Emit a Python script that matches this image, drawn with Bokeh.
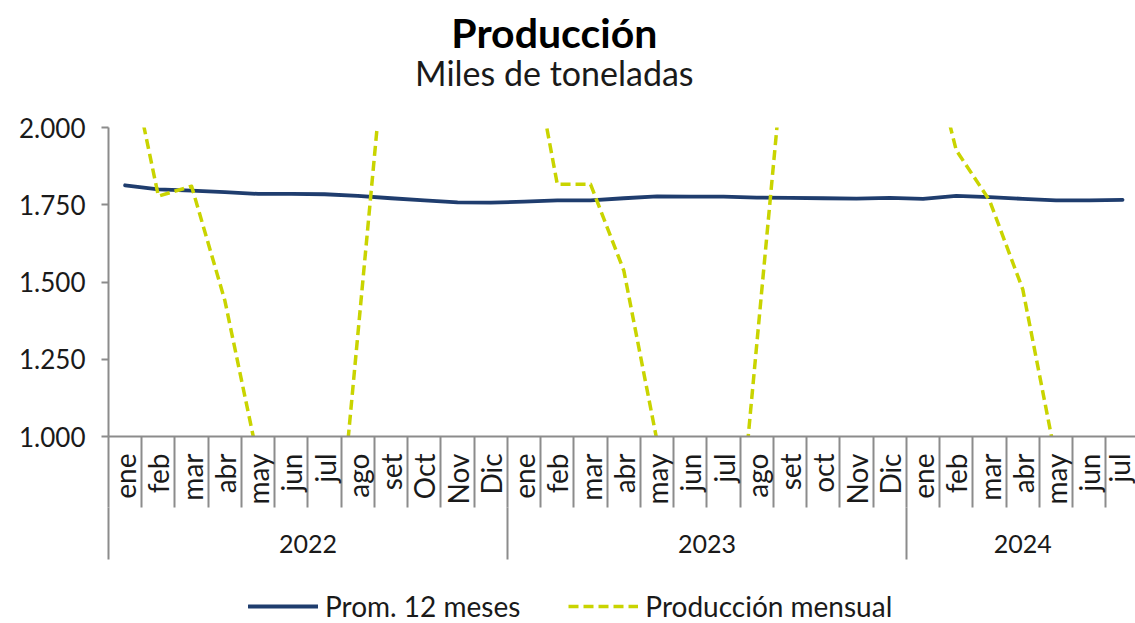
import numpy as np
from bokeh.plotting import figure
from bokeh.layouts import column
from bokeh.models import Range1d, LinearAxis, FixedTicker, Label, Legend, LegendItem, ColumnDataSource
from bokeh.embed import file_html
from bokeh.resources import INLINE

# ---------------- data ----------------
months = ["ene", "feb", "mar", "abr", "may", "jun", "jul", "ago", "set", "Oct", "Nov", "Dic",
          "ene", "feb", "mar", "abr", "may", "jun", "jul", "ago", "set", "oct", "Nov", "Dic",
          "ene", "feb", "mar", "abr", "may", "jun", "jul"]
years = ["2022", "2023", "2024"]
months_per_year = [12, 12, 7]

prom_12_meses = [1813, 1800, 1796, 1791, 1785, 1785, 1784, 1779, 1771, 1764, 1758, 1757,
                 1760, 1764, 1764, 1771, 1777, 1776, 1776, 1773, 1772, 1771, 1770, 1772,
                 1769, 1779, 1775, 1769, 1764, 1764, 1766]
produccion_mensual = [2295, 1778, 1810, 1440, 925, 430, 174, 1330, 2486, 2950, 2900, 2750,
                      2393, 1816, 1816, 1537, 985, 420, 142, 1300, 2458, 2900, 2850, 2700,
                      2350, 1926, 1764, 1476, 925, 410, 160]

y_ticks = [1000, 1250, 1500, 1750, 2000]
y_tick_labels = ["1.000", "1.250", "1.500", "1.750", "2.000"]

titulo = "Producción"
subtitulo = "Miles de toneladas"
series_names = ["Prom. 12 meses", "Producción mensual"]

# ---------------- style ----------------
FONT = "Lato"
NAVY = "#1F3D6E"
LIME = "#C9D400"
GREY = "#8C8C8C"
TXT = "#1A1A1A"
W = 1135

x_pos = list(np.arange(len(months)) + 0.5)
src = ColumnDataSource(dict(x=x_pos, prom=prom_12_meses, mens=produccion_mensual))

year_starts = list(np.cumsum([0] + months_per_year[:-1]))
year_centers = [float(s + n / 2) for s, n in zip(year_starts, months_per_year)]

x_range = Range1d(0, 30.89)


def strip(height, y_end):
    f = figure(width=W, height=height, output_backend="svg", toolbar_location=None,
               x_range=x_range, y_range=Range1d(0, y_end), x_axis_type=None, y_axis_type=None,
               min_border_left=0, min_border_right=0, min_border_top=0, min_border_bottom=0,
               outline_line_color=None, background_fill_color="white", border_fill_color="white")
    f.grid.visible = False
    return f


# ---------------- title strip ----------------
t = strip(112, 112)
t.add_layout(Label(x=13.41, y=80, text=titulo, text_align="center", text_baseline="middle",
                   text_font=FONT, text_font_size="41px", text_font_style="bold", text_color="#000000"))
t.add_layout(Label(x=13.41, y=40, text=subtitulo, text_align="center", text_baseline="middle",
                   text_font=FONT, text_font_size="34px", text_color=TXT))

# ---------------- main chart ----------------
p = figure(width=W, height=471, output_backend="svg", toolbar_location=None,
           x_range=x_range, y_range=Range1d(1000, 2000),
           x_axis_type=None,
           min_border_left=108, min_border_right=0, min_border_top=15, min_border_bottom=147,
           outline_line_color=None, background_fill_color="white", border_fill_color="white")
p.grid.visible = False

ya = p.yaxis[0]
ya.ticker = FixedTicker(ticks=y_ticks)
ya.major_label_overrides = {t_: l for t_, l in zip(y_ticks, y_tick_labels)}
ya.major_tick_out = 7
ya.major_tick_in = 0
ya.minor_tick_out = 0
ya.minor_tick_in = 0
ya.axis_line_color = GREY
ya.axis_line_width = 2
ya.major_tick_line_color = GREY
ya.major_tick_line_width = 2
ya.major_label_standoff = 16
ya.major_label_text_font = FONT
ya.major_label_text_font_size = "26px"
ya.major_label_text_color = TXT

# x axis: months (minor ticks = dividers)
ax1 = LinearAxis(ticker=FixedTicker(ticks=x_pos, minor_ticks=list(range(len(months) + 1))))
ax1.major_label_overrides = {float(x): m for x, m in zip(x_pos, months)}
ax1.major_label_orientation = np.pi / 2
ax1.major_tick_out = 0
ax1.major_tick_in = 0
ax1.minor_tick_out = 71
ax1.minor_tick_in = 0
ax1.minor_tick_line_color = GREY
ax1.minor_tick_line_width = 2
ax1.axis_line_color = GREY
ax1.axis_line_width = 2
ax1.major_label_standoff = -54
ax1.major_label_text_font = FONT
ax1.major_label_text_font_size = "28px"
ax1.major_label_text_color = TXT
p.add_layout(ax1, "below")

# x axis: years (minor ticks = year dividers)
ax2 = LinearAxis(ticker=FixedTicker(ticks=year_centers, minor_ticks=[float(s) for s in year_starts]))
ax2.major_label_overrides = {c: y for c, y in zip(year_centers, years)}
ax2.major_tick_out = 0
ax2.major_tick_in = 0
ax2.minor_tick_out = 52
ax2.minor_tick_in = 0
ax2.minor_tick_line_color = GREY
ax2.minor_tick_line_width = 2
ax2.axis_line_color = None
ax2.major_label_standoff = -25
ax2.major_label_text_font = FONT
ax2.major_label_text_font_size = "25px"
ax2.major_label_text_color = TXT
p.add_layout(ax2, "below")

p.line("x", "prom", source=src, line_color=NAVY, line_width=3.8, line_join="round", line_cap="round")
p.line("x", "mens", source=src, line_color=LIME, line_width=3.5, line_dash="10 5", line_join="round")

# ---------------- legend strip ----------------
q = strip(40, 1)
l1 = q.line("x", "prom", source=src, line_color=NAVY, line_width=3.8, line_cap="round")
l2 = q.line("x", "mens", source=src, line_color=LIME, line_width=3.5, line_dash="10 5")
legend = Legend(items=[LegendItem(label=series_names[0], renderers=[l1]),
                       LegendItem(label=series_names[1], renderers=[l2])],
                orientation="horizontal", location=(140, 0), padding=0, margin=0,
                glyph_width=70, glyph_height=20, label_standoff=7, spacing=48,
                label_text_font=FONT, label_text_font_size="28px", label_text_color=TXT,
                border_line_color=None, background_fill_alpha=0)
q.add_layout(legend)

open("out.html", "w").write(file_html(column(t, p, q, spacing=0), INLINE))
